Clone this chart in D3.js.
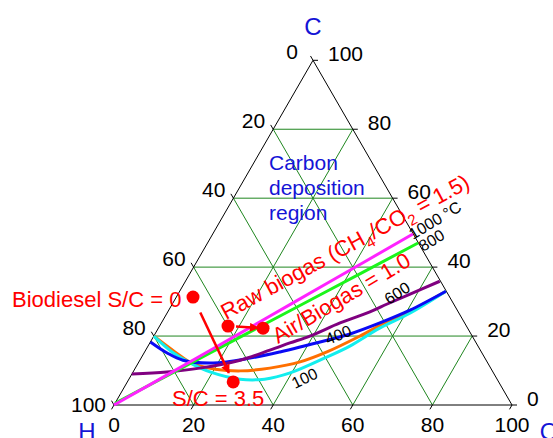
<!DOCTYPE html>
<html>
<head>
<meta charset="utf-8">
<script src="https://cdn.jsdelivr.net/npm/d3@7"></script>
<style>
  body { margin: 0; background: #fff; }
  svg { display: block; font-family: Arial, "Liberation Sans", sans-serif; }
</style>
</head>
<body>
<svg id="chart" width="553" height="438"></svg>
<script>
// Ternary C–H–O composition diagram with carbon-deposition boundaries.
// Every composition is stored as [O %, C %]; H % is the remainder.
const axisTicks = [0, 20, 40, 60, 80, 100];
const gridLevels = [20, 40, 60, 80];

// Carbon-deposition boundaries at several temperatures
const boundary1000 = [[0, 0], [16.2, 15.8], [26.3, 25.8], [35.9, 35.3], [50.3, 49.6]];
const boundary800  = [[0, 0.5], [16.6, 15.1], [37.0, 33.0], [52.9, 47.0]];
const boundary600  = [[0, 9.0], [8.5, 9.6], [16.2, 10.7], [25.2, 13.0], [31.2, 15.9], [35.2, 18.0],
                      [39.2, 20.0], [44.9, 23.8], [50.8, 27.0], [54.0, 29.3], [58.3, 32.2], [63.9, 35.9]];
const boundary400  = [[0, 18.3], [5.8, 15.1], [10.8, 13.0], [18.8, 12.2], [27.4, 13.6], [34.0, 15.4],
                      [44.1, 18.8], [49.0, 20.6], [54.9, 23.8], [60.6, 27.5], [66.9, 33.0]];
const boundaryOrange = [[0, 20.0], [7.6, 15.4], [13.9, 11.9], [20.2, 10.4], [26.8, 9.9], [33.8, 10.7],
                        [40.5, 12.5], [45.8, 15.4], [51.8, 20.0], [57.0, 24.6], [60.8, 27.2], [66.9, 33.0]];
const boundary100  = [[0, 20.0], [6.9, 15.4], [13.0, 12.2], [19.3, 9.6], [27.9, 7.5], [34.1, 7.5],
                      [39.6, 9.3], [46.5, 13.9], [50.7, 17.1], [55.6, 22.3], [61.1, 26.7], [66.9, 33.0]];

// Feed compositions
const biodiesel   = [4.2, 31.3];
const steamSC35   = [26.6, 6.7];
const rawBiogas   = [17.2, 22.9];
const airBiogas   = [26.3, 22.3];

const svg = d3.select("#chart");

// O runs along the base, C up the height
const ox = d3.scaleLinear().domain([0, 100]).range([114, 512]);
const cy = d3.scaleLinear().domain([0, 100]).range([405, 60.3]);
const P = d => [ox(d[0] + d[1] / 2), cy(d[1])];

const GRID = "#1f861f";

// grid lines
const gridG = svg.append("g").attr("stroke", GRID).attr("stroke-width", 1).attr("fill", "none");
gridLevels.forEach(k => {
  const segs = [
    [[0, k], [100 - k, k]],          // constant C
    [[0, 100 - k], [100 - k, 0]],    // constant H
    [[k, 0], [k, 100 - k]]           // constant O
  ];
  segs.forEach(s => {
    const a = P(s[0]), b = P(s[1]);
    gridG.append("line").attr("x1", a[0]).attr("y1", a[1]).attr("x2", b[0]).attr("y2", b[1]);
  });
});

// triangle frame
const frame = [P([0, 0]), P([100, 0]), P([0, 100])];
svg.append("path")
  .attr("d", d3.line()(frame) + "Z")
  .attr("fill", "none").attr("stroke", "#000").attr("stroke-width", 1);

// ticks and tick labels
const tickG = svg.append("g").attr("stroke", "#000").attr("stroke-width", 1);
const labG = svg.append("g").attr("font-size", 21).attr("fill", "#000");
const TL = 5;
axisTicks.forEach(v => {
  // left side: H %
  let n = P([0, 100 - v]);
  tickG.append("line").attr("x1", n[0]).attr("y1", n[1])
    .attr("x2", n[0] - 0.5 * TL).attr("y2", n[1] - 0.866 * TL);
  labG.append("text").attr("x", n[0] + (v === 0 ? -15 : -8)).attr("y", n[1] + (v === 100 ? 1 : -7))
    .attr("text-anchor", "end").attr("dominant-baseline", "middle").text(v);

  // right side: C %
  n = P([100 - v, v]);
  tickG.append("line").attr("x1", n[0]).attr("y1", n[1]).attr("x2", n[0] + TL).attr("y2", n[1]);
  labG.append("text").attr("x", n[0] + 15).attr("y", n[1] - 5)
    .attr("text-anchor", "start").attr("dominant-baseline", "middle").text(v);

  // bottom: O %
  n = P([v, 0]);
  tickG.append("line").attr("x1", n[0]).attr("y1", n[1])
    .attr("x2", n[0] - 0.5 * TL).attr("y2", n[1] + 0.866 * TL);
  labG.append("text").attr("x", n[0]).attr("y", n[1] + 27)
    .attr("text-anchor", "middle").text(v);
});

// axis titles
const BLUE = "#1414d6";
svg.append("text").attr("x", 313).attr("y", 35).attr("text-anchor", "middle")
  .attr("font-size", 24).attr("fill", BLUE).text("C");
svg.append("text").attr("x", 87).attr("y", 440).attr("text-anchor", "middle")
  .attr("font-size", 24).attr("fill", BLUE).text("H");
svg.append("text").attr("x", 549).attr("y", 440).attr("text-anchor", "middle")
  .attr("font-size", 24).attr("fill", BLUE).text("O");

// region label
const region = svg.append("text").attr("font-size", 21).attr("fill", BLUE);
["Carbon", "deposition", "region"].forEach((t, i) =>
  region.append("tspan").attr("x", 269).attr("y", 170 + i * 25).text(t));

// boundary curves
const line = d3.line().x(d => P(d)[0]).y(d => P(d)[1]).curve(d3.curveCatmullRom.alpha(0.5));
const series = [
  { data: boundaryOrange, color: "#ff6f00" },
  { data: boundary100,  color: "#12eeee" },
  { data: boundary400,  color: "#0a0af5" },
  { data: boundary600,  color: "#800080" },
  { data: boundary800,  color: "#1bf51b" },
  { data: boundary1000, color: "#ff22ff" }
];
svg.append("g").selectAll("path").data(series).join("path")
  .attr("d", s => line(s.data))
  .attr("fill", "none").attr("stroke", s => s.color).attr("stroke-width", 3);

// temperature labels
const tempLabels = [
  { t: "1000 \u00B0C", x: 413, y: 240, a: -31 },
  { t: "800", x: 423, y: 252, a: -31 },
  { t: "600", x: 389, y: 305, a: -33 },
  { t: "400", x: 328, y: 345, a: -22 },
  { t: "100", x: 295, y: 389, a: -26 }
];
svg.append("g").selectAll("text").data(tempLabels).join("text")
  .attr("transform", d => `translate(${d.x},${d.y}) rotate(${d.a})`)
  .attr("font-size", 16).attr("fill", "#000").text(d => d.t);

// feeds and reforming arrows
const RED = "#ff0000";
const defs = svg.append("defs");
defs.append("marker").attr("id", "arrow").attr("markerUnits", "userSpaceOnUse")
  .attr("viewBox", "0 0 10 10").attr("refX", 9).attr("refY", 5)
  .attr("markerWidth", 10).attr("markerHeight", 9).attr("orient", "auto")
  .append("path").attr("d", "M0,0 L10,5 L0,10 Z").attr("fill", RED);

function arrow(from, to, gapStart, gapEnd) {
  const a = P(from), b = P(to);
  const dx = b[0] - a[0], dy = b[1] - a[1], L = Math.hypot(dx, dy);
  const ux = dx / L, uy = dy / L;
  svg.append("line")
    .attr("x1", a[0] + ux * gapStart).attr("y1", a[1] + uy * gapStart)
    .attr("x2", b[0] - ux * gapEnd).attr("y2", b[1] - uy * gapEnd)
    .attr("stroke", RED).attr("stroke-width", 2.5).attr("marker-end", "url(#arrow)");
}
arrow(biodiesel, steamSC35, 17, 10);
arrow(rawBiogas, airBiogas, 8, 5);

svg.append("g").selectAll("circle").data([biodiesel, steamSC35, rawBiogas, airBiogas]).join("circle")
  .attr("cx", d => P(d)[0]).attr("cy", d => P(d)[1]).attr("r", 6.5).attr("fill", RED);

// red annotations
const redG = svg.append("g").attr("fill", RED).attr("font-size", 22);
redG.append("text").attr("x", 12).attr("y", 307).text("Biodiesel S/C = 0");
redG.append("text").attr("x", 172).attr("y", 406).text("S/C = 3.5");

const raw = redG.append("text").attr("transform", "translate(226,320) rotate(-28.5)");
raw.append("tspan").text("Raw biogas (CH");
raw.append("tspan").attr("font-size", 15).attr("dy", 6).text("4");
raw.append("tspan").attr("dy", -6).text("/CO");
raw.append("tspan").attr("font-size", 15).attr("dy", 6).text("2");
raw.append("tspan").attr("dy", -6).text(" = 1.5)");

redG.append("text").attr("transform", "translate(278,344) rotate(-30.5)").text("Air/Biogas = 1.0");
</script>
</body>
</html>
